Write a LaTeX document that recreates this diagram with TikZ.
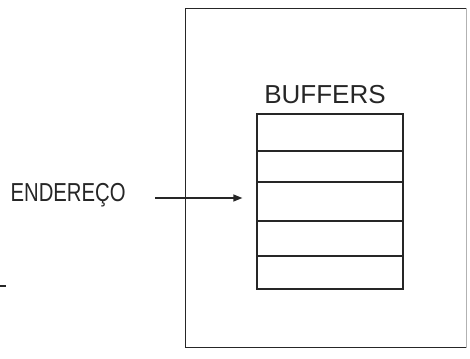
\documentclass[tikz,border=0pt]{standalone}
\usepackage{fontspec}
\setmainfont{Liberation Sans}
\usepackage{tikz}
\usetikzlibrary{positioning,arrows.meta}

\begin{document}
\begin{tikzpicture}[x=1pt, y=-1pt,
      line width=1.3pt, draw=black!85,
      label text/.style={inner sep=0pt, text=black!85, font=\fontsize{26}{28}\selectfont},
      arrow line/.style={-{Triangle[length=9pt,width=7pt]}, shorten >=14pt}]
    \useasboundingbox (0,0) rectangle (470,358);
    % outer frame
    \node (frame) [minimum width=280pt, minimum height=338pt, inner sep=0pt] at (326,178) {};
    \draw (frame.north east) -- (frame.north west) -- (frame.south west) -- (frame.south east);
    \draw[draw=black!30, line width=0.8pt] (frame.north east) -- (frame.south east);
    % buffer stack
    \node (buf) [draw, minimum width=146pt, minimum height=175pt, inner sep=0pt] at (330,201.5) {};
    \foreach \y in {151,182,221,256}
      \draw (buf.west |- 0,\y) -- (buf.east |- 0,\y);
    \node (buflabel) [label text, anchor=base] at (325,104) {BUFFERS};
    % address input
    \node (addr) [label text, anchor=base west] at (10,201) {\scalebox{0.78}[1]{ENDEREÇO}};
    \coordinate (src) at (155,198);
    \draw[arrow line] (src) -- (buf.west |- src);
    \draw[line width=1.5pt] (0,286) -- (6,286);
\end{tikzpicture}
\end{document}
